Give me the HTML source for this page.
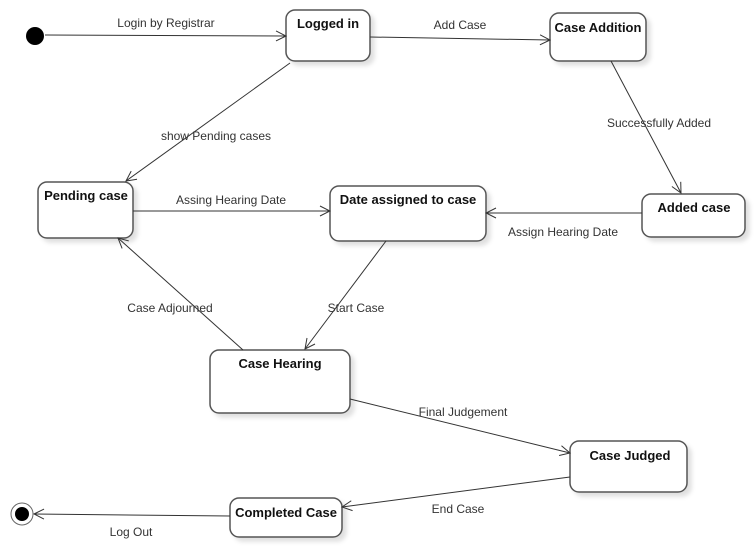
<!DOCTYPE html>
<html><head><style>body{margin:0;background:#fff}svg{display:block}text{font-family:"Liberation Sans",Arial,sans-serif}</style></head><body>
<svg width="755" height="547" viewBox="0 0 755 547" xmlns="http://www.w3.org/2000/svg">
<defs>
<marker id="a" markerWidth="12" markerHeight="12" refX="11" refY="6" orient="auto" markerUnits="userSpaceOnUse"><path d="M1,1 L11,6 L1,11" fill="none" stroke="#333" stroke-width="1"/></marker>
<filter id="s" x="-10%" y="-10%" width="130%" height="140%"><feDropShadow dx="4" dy="4" stdDeviation="2" flood-color="#000" flood-opacity="0.12"/></filter>
</defs>
<g fill="#fff" stroke="#555" stroke-width="1.5" filter="url(#s)">
<rect x="286" y="10" width="84" height="51" rx="9"/>
<rect x="550" y="13" width="96" height="48" rx="9"/>
<rect x="38" y="182" width="95" height="56" rx="9"/>
<rect x="330" y="186" width="156" height="55" rx="9"/>
<rect x="642" y="194" width="103" height="43" rx="9"/>
<rect x="210" y="350" width="140" height="63" rx="9"/>
<rect x="570" y="441" width="117" height="51" rx="9"/>
<rect x="230" y="498" width="112" height="39" rx="9"/>
</g>
<circle cx="35" cy="36" r="9" fill="#000"/>
<circle cx="22" cy="514" r="11" fill="#fff" stroke="#666" stroke-width="1"/>
<circle cx="22" cy="514" r="7" fill="#000"/>
<g stroke="#333" stroke-width="1" fill="none" marker-end="url(#a)">
<line x1="45" y1="35" x2="286" y2="36"/>
<line x1="370" y1="37" x2="550" y2="40"/>
<line x1="290" y1="63" x2="126" y2="181"/>
<line x1="611" y1="61" x2="681" y2="193"/>
<line x1="133" y1="211" x2="330" y2="211"/>
<line x1="642" y1="213" x2="486" y2="213"/>
<line x1="243" y1="350" x2="118" y2="238"/>
<line x1="386" y1="241" x2="305" y2="349"/>
<line x1="350" y1="399" x2="570" y2="453"/>
<line x1="570" y1="477" x2="342" y2="507"/>
<line x1="230" y1="516" x2="34" y2="514"/>
</g>
<g font-size="12" fill="#333" text-anchor="middle">
<text x="166" y="27">Login by Registrar</text>
<text x="460" y="29">Add Case</text>
<text x="216" y="140">show Pending cases</text>
<text x="659" y="127">Successfully Added</text>
<text x="231" y="204">Assing Hearing Date</text>
<text x="563" y="236">Assign Hearing Date</text>
<text x="170" y="312">Case Adjourned</text>
<text x="356" y="312">Start Case</text>
<text x="463" y="416">Final Judgement</text>
<text x="458" y="513">End Case</text>
<text x="131" y="536">Log Out</text>
</g>
<g font-size="13" font-weight="bold" fill="#111" text-anchor="middle">
<text x="328" y="28">Logged in</text>
<text x="598" y="32">Case Addition</text>
<text x="86" y="200">Pending case</text>
<text x="408" y="204">Date assigned to case</text>
<text x="694" y="212">Added case</text>
<text x="280" y="368">Case Hearing</text>
<text x="630" y="460">Case Judged</text>
<text x="286" y="517">Completed Case</text>
</g>
</svg>
</body></html>
